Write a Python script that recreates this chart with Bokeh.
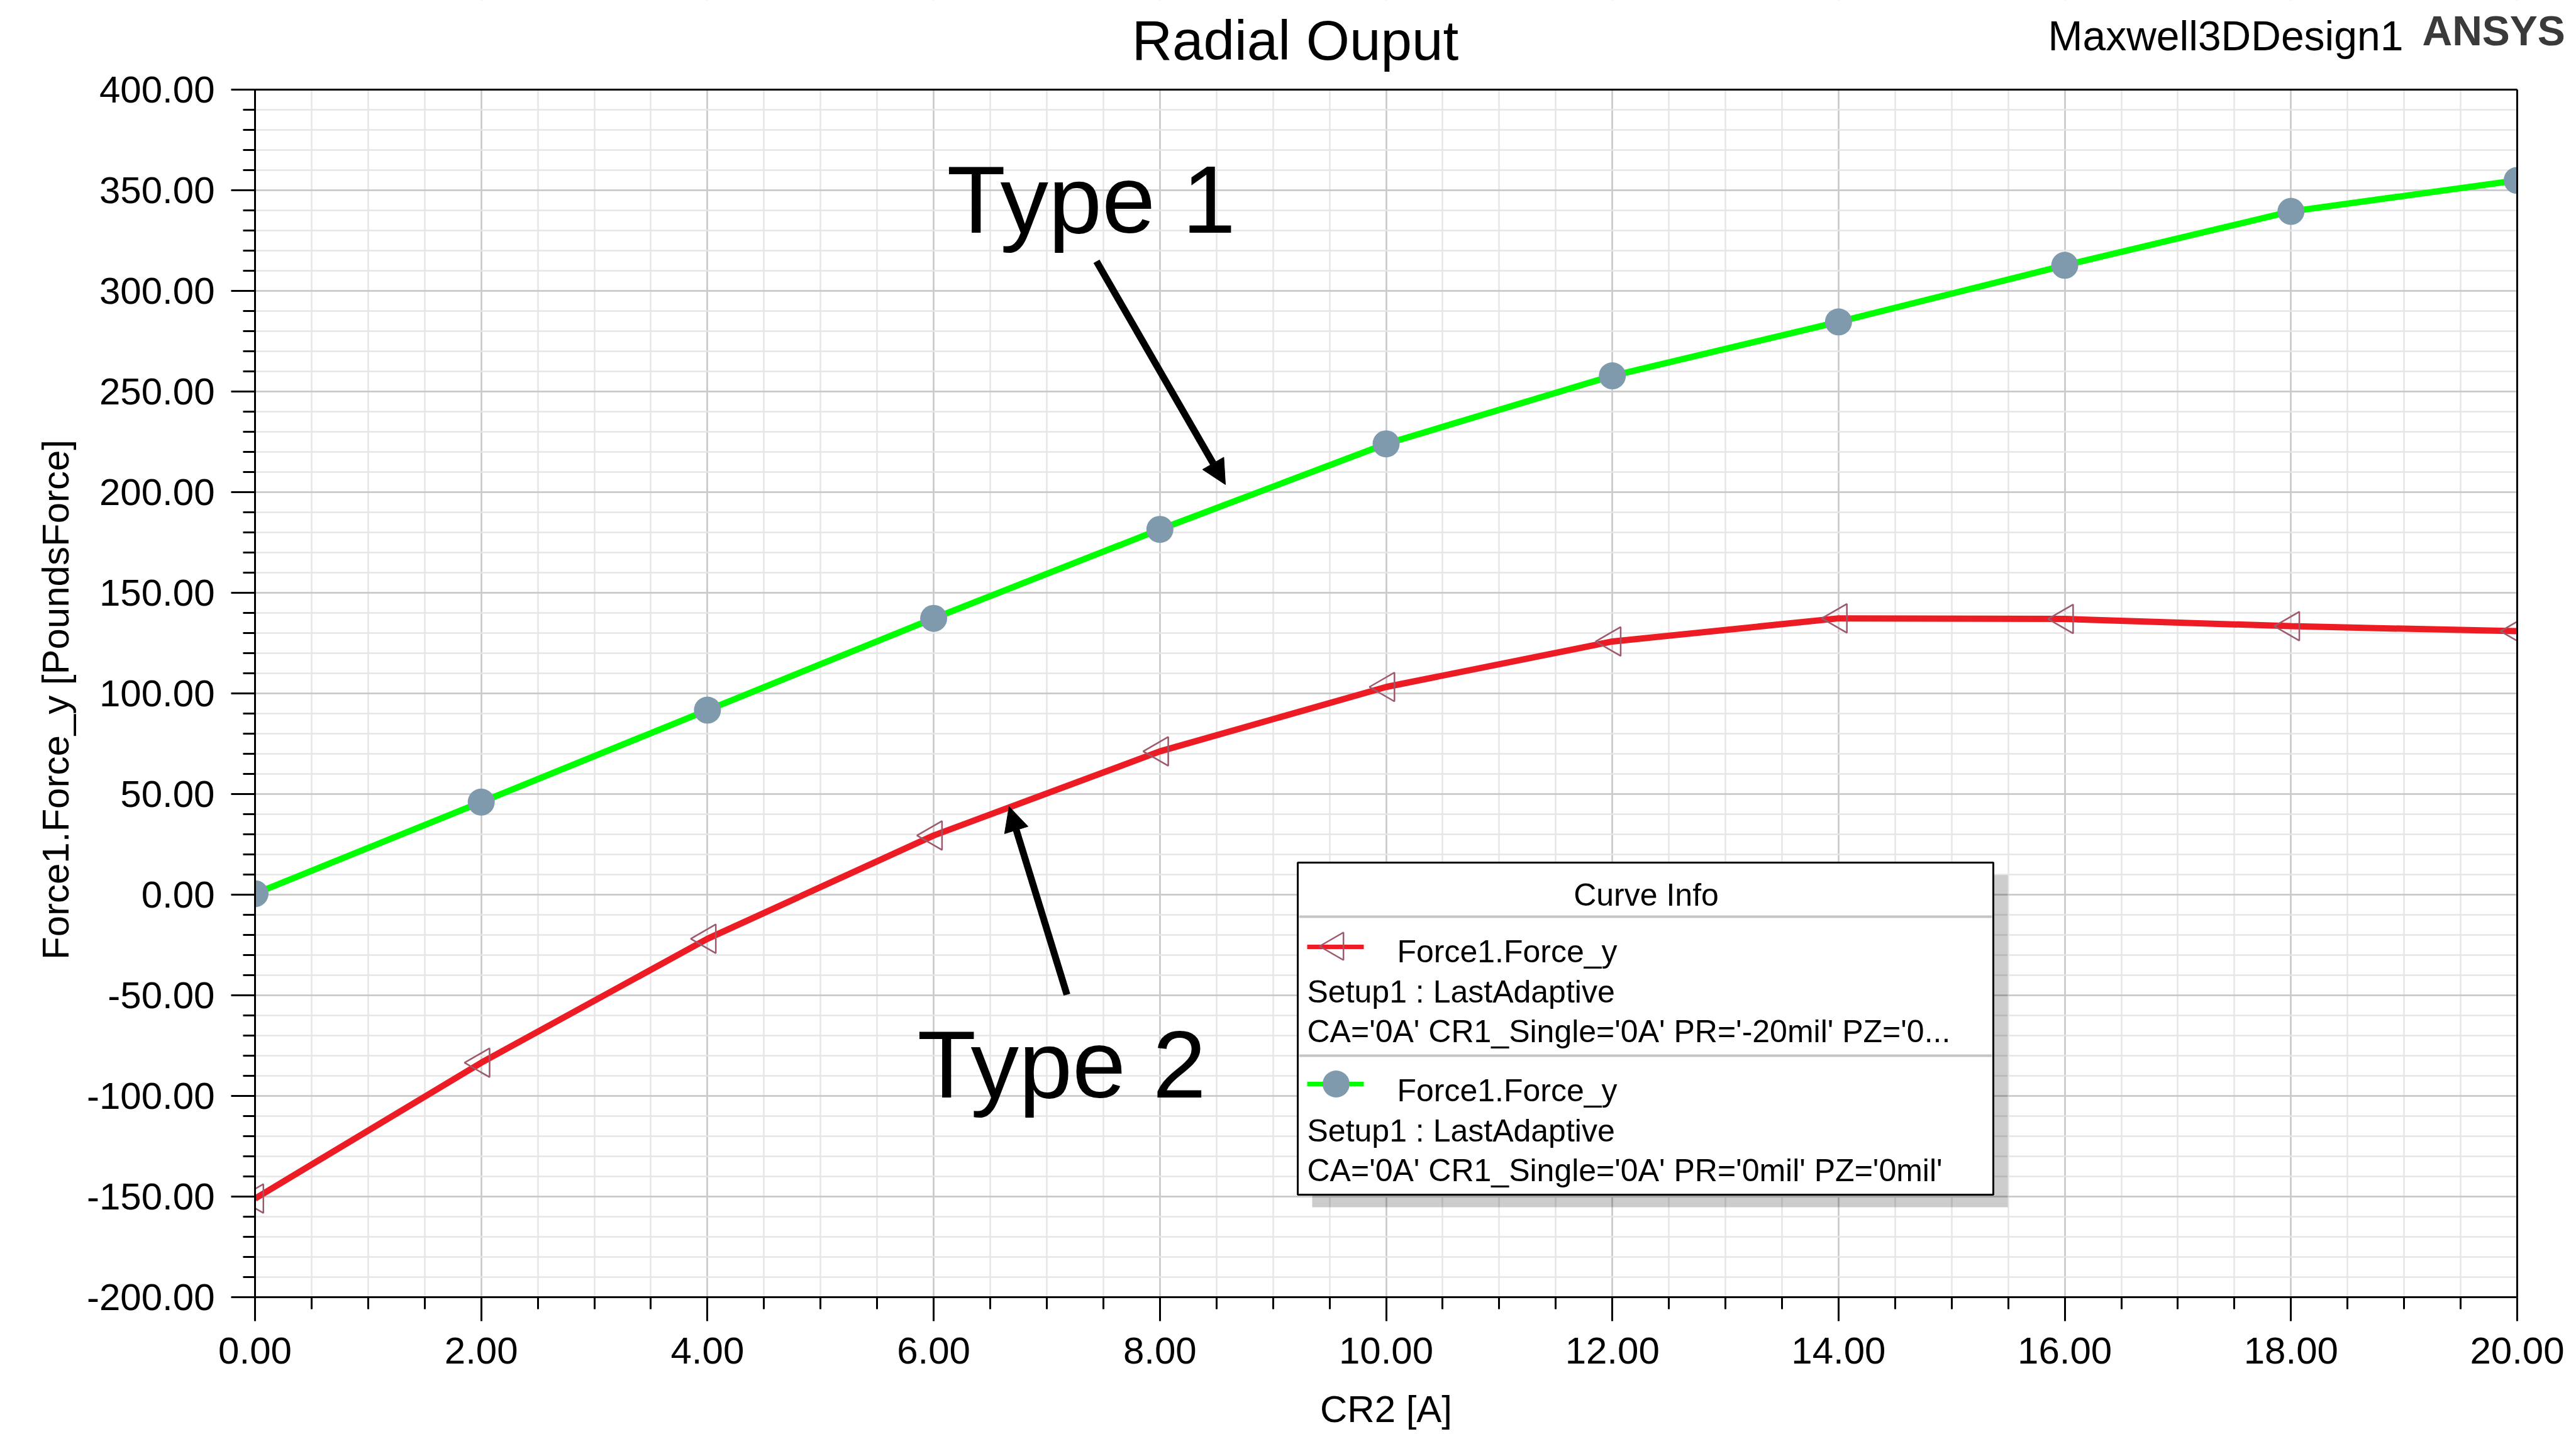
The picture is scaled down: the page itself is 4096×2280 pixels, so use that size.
import math
from bokeh.plotting import figure
from bokeh.models import (Range1d, SingleIntervalTicker, FixedTicker, PrintfTickFormatter,
                          CustomJSTickFormatter, LinearAxis, Label, Arrow, NormalHead)
from bokeh.embed import file_html
from bokeh.resources import INLINE

# ---------------- data ----------------
cr2_amps = [0, 2, 4, 6, 8, 10, 12, 14, 16, 18, 20]
force_type1 = [0.5, 46.0, 91.7, 137.3, 181.5, 224.0, 257.8, 284.6, 312.7, 339.5, 354.9]      # PR='0mil'
force_type2 = [-151.0, -83.5, -21.9, 29.4, 71.2, 103.2, 125.8, 137.3, 137.0, 133.4, 130.9]   # PR='-20mil'

title_text = "Radial Ouput"
design_text = "Maxwell3DDesign1"
brand_text = "ANSYS"
x_label = "CR2 [A]"
y_label = "Force1.Force_y [PoundsForce]"
legend_title = "Curve Info"
legend_type2 = ["Force1.Force_y", "Setup1 : LastAdaptive", "CA='0A' CR1_Single='0A' PR='-20mil' PZ='0..."]
legend_type1 = ["Force1.Force_y", "Setup1 : LastAdaptive", "CA='0A' CR1_Single='0A' PR='0mil' PZ='0mil'"]
annot1 = "Type 1"
annot2 = "Type 2"

# ---------------- layout ----------------
W, H = 4096, 2280
FL, FR, FT, FB = 405, 4002, 142, 2062      # visible plot box (pixels)
X0, X1, Y0, Y1 = 0, 20, -200, 400          # visible data box
FONT = "Liberation Sans"
BASE_SHIFT = 0.35  # em correction for alphabetic baseline

GREEN = "#00ff00"
RED = "#ed1c24"
CIRCLE = "#7f9aad"
TRI = "#9c5a6c"


def dx(px):
    return X0 + (px - FL) / (FR - FL) * (X1 - X0)


def dy(py):
    return Y1 - (py - FT) / (FB - FT) * (Y1 - Y0)


# the frame runs to the top and right canvas edges so that the title texts can live in it
XE = dx(W)
YE = dy(0)

p = figure(width=W, height=H, x_range=Range1d(X0, XE), y_range=Range1d(Y0, YE),
           output_backend="svg", toolbar_location=None, title=None,
           min_border_left=FL, min_border_right=0,
           min_border_top=0, min_border_bottom=H - FB)
p.background_fill_color = "white"
p.border_fill_color = "white"
p.outline_line_color = None

xt = SingleIntervalTicker(interval=2, num_minor_ticks=4)
yt = SingleIntervalTicker(interval=50, num_minor_ticks=5)
p.xaxis.ticker = xt
p.yaxis.ticker = yt
p.xgrid.ticker = xt
p.ygrid.ticker = yt
p.xaxis.bounds = (X0, X1)
p.yaxis.bounds = (Y0, Y1)

for ax in (p.xaxis, p.yaxis):
    ax.formatter = PrintfTickFormatter(format="%.2f")
    ax.axis_line_color = "black"
    ax.axis_line_width = 3
    ax.major_tick_line_color = "black"
    ax.major_tick_line_width = 3
    ax.minor_tick_line_color = "black"
    ax.minor_tick_line_width = 3
    ax.major_tick_in = 0
    ax.minor_tick_in = 0
    ax.major_tick_out = 38
    ax.minor_tick_out = 19
    ax.major_label_text_font = FONT
    ax.major_label_text_font_size = "60px"
    ax.major_label_text_color = "black"

p.xaxis.major_label_standoff = 26
p.yaxis.major_label_standoff = 26


def title_axis(text, pos, standoff, orientation):
    ax = LinearAxis(ticker=FixedTicker(ticks=[pos]),
                    formatter=CustomJSTickFormatter(args=dict(t=text), code="return t;"),
                    axis_line_color=None, major_tick_line_color=None, minor_tick_line_color=None,
                    major_tick_in=0, major_tick_out=0, minor_tick_in=0, minor_tick_out=0,
                    major_label_standoff=standoff, major_label_orientation=orientation,
                    major_label_text_font=FONT, major_label_text_font_size="60px",
                    major_label_text_color="black")
    return ax


# axis titles (centred on the visible plot box)
p.add_layout(title_axis(x_label, dx((FL + FR) / 2), 36, "horizontal"), "below")
p.add_layout(title_axis(y_label, dy(1112), 14, "vertical"), "left")

for g in (p.xgrid, p.ygrid):
    g.grid_line_color = "#c8c8c8"
    g.grid_line_width = 2.5
    g.minor_grid_line_color = "#e6e6e6"
    g.minor_grid_line_width = 2.5

# ---------------- curves ----------------
p.line(cr2_amps, force_type2, line_color=RED, line_width=10)
p.scatter(cr2_amps, force_type2, marker="triangle", size=46, angle=math.pi / 2,
          fill_color=None, line_color=TRI, line_width=2.5)
p.line(cr2_amps, force_type1, line_color=GREEN, line_width=10)
p.scatter(cr2_amps, force_type1, marker="circle", size=43, fill_color=CIRCLE, line_color=None)

# white margins above and right of the plot box (hide grid / marker overflow)
p.quad(left=[X0, X1], right=[XE, XE], bottom=[Y1, Y0], top=[YE, YE],
       fill_color="white", line_color=None)
# plot box top and right edges
p.segment(x0=[X0, X1], x1=[X1, X1], y0=[Y1, Y0], y1=[Y1, Y1], line_color="black", line_width=3)

# ---------------- legend box ----------------
LB_L, LB_R, LB_T, LB_B = 2063, 3169, 1371, 1899
p.quad(left=[dx(LB_L + 23)], right=[dx(LB_R + 23)], top=[dy(LB_T + 20)], bottom=[dy(LB_B + 20)],
       fill_color="black", fill_alpha=0.2, line_color=None)
p.quad(left=[dx(LB_L)], right=[dx(LB_R)], top=[dy(LB_T)], bottom=[dy(LB_B)],
       fill_color="white", line_color="black", line_width=3)
for sy in (1457, 1678):
    p.segment(x0=[dx(LB_L + 2)], x1=[dx(LB_R - 2)], y0=[dy(sy)], y1=[dy(sy)],
              line_color="#c4c4c4", line_width=4)
p.segment(x0=[dx(2078)], x1=[dx(2168)], y0=[dy(1505)], y1=[dy(1505)], line_color=RED, line_width=7)
p.scatter([dx(2123)], [dy(1504)], marker="triangle", size=44, angle=math.pi / 2,
          fill_color=None, line_color=TRI, line_width=2.5)
p.segment(x0=[dx(2078)], x1=[dx(2168)], y0=[dy(1723)], y1=[dy(1723)], line_color=GREEN, line_width=7)
p.scatter([dx(2124)], [dy(1723)], marker="circle", size=43, fill_color=CIRCLE, line_color=None)


def add_label(text, px, py, size, align="left", style="normal", color="black"):
    p.add_layout(Label(x=dx(px), y=dy(py - BASE_SHIFT * size), text=text, text_font=FONT,
                       text_font_size=f"{size}px", text_align=align,
                       text_baseline="alphabetic", text_font_style=style,
                       text_color=color))


add_label(legend_title, 2617, 1440, 50, align="center")
add_label(legend_type2[0], 2221, 1530, 50)
add_label(legend_type2[1], 2078, 1594, 50)
add_label(legend_type2[2], 2078, 1657, 50)
add_label(legend_type1[0], 2221, 1751, 50)
add_label(legend_type1[1], 2078, 1815, 50)
add_label(legend_type1[2], 2078, 1878, 50)

# ---------------- titles ----------------
add_label(title_text, 2059, 95, 89, align="center")
add_label(design_text, 3256, 80, 66)
add_label(brand_text, 3851, 72, 66, style="bold", color="#3a3a3a")

# ---------------- annotations ----------------
add_label(annot1, 1505, 370, 153)
add_label(annot2, 1458, 1745, 153)

for (sx, sy, ex, ey) in [(1743, 415, 1948, 770), (1696, 1581, 1604, 1282)]:
    p.add_layout(Arrow(end=NormalHead(size=39, fill_color="black", line_color="black"),
                       x_start=dx(sx), y_start=dy(sy), x_end=dx(ex), y_end=dy(ey),
                       line_color="black", line_width=11))

open("out.html", "w").write(file_html(p, INLINE))
